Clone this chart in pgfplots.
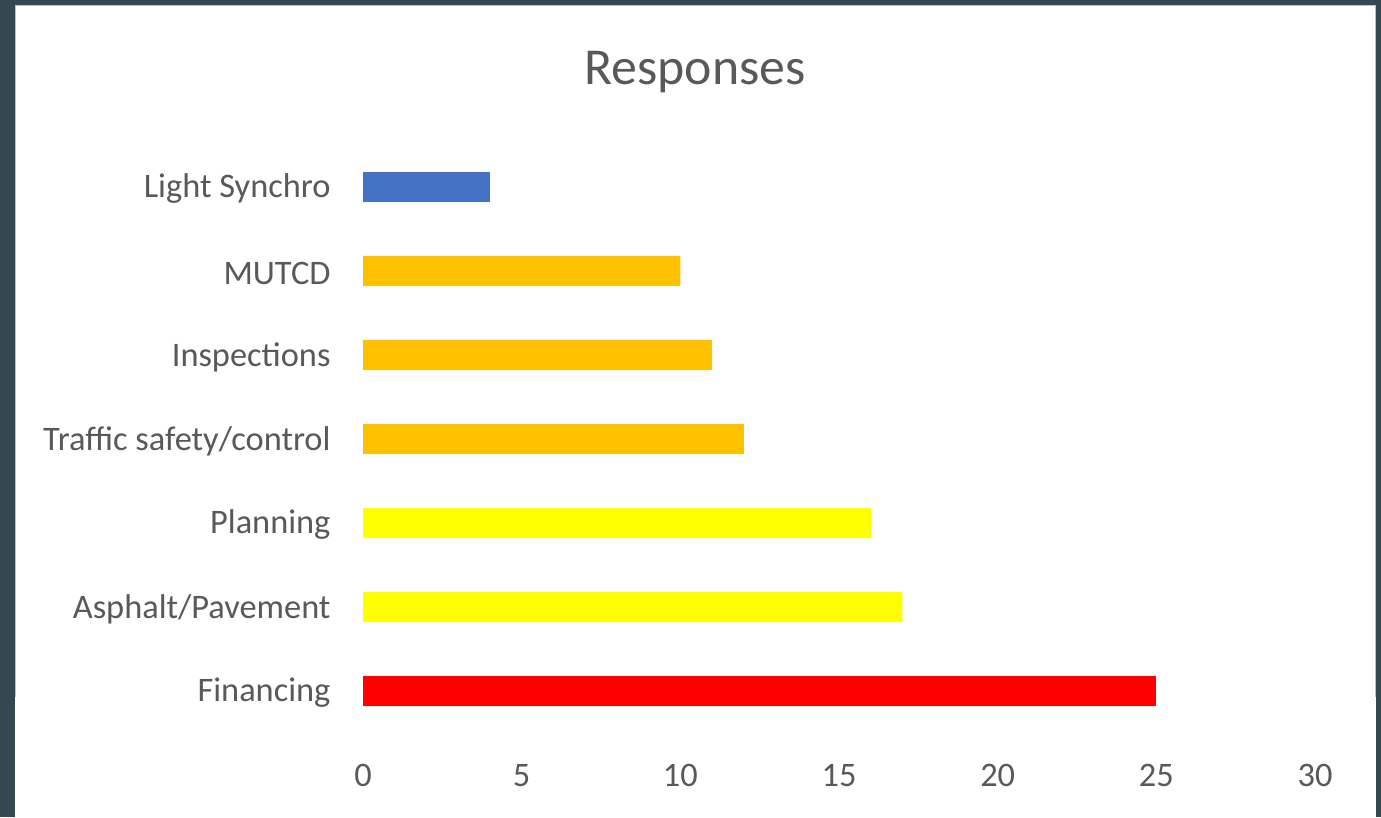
\documentclass[border=0pt]{standalone}
\usepackage{pgfplots}
\pgfplotsset{compat=1.18}
\usepackage{fontspec}
\setmainfont{Carlito}
\definecolor{bgdark}{HTML}{37474F}
\definecolor{txtgray}{HTML}{595959}
\definecolor{barblue}{HTML}{4472C4}
\definecolor{barorange}{HTML}{FFC000}
\definecolor{baryellow}{HTML}{FFFF00}
\definecolor{barred}{HTML}{FF0000}

\begin{document}
\begin{tikzpicture}[x=1bp,y=1bp]
% slide background and white panel
\fill[bgdark] (0,0) rectangle (1381,817);
\fill[white] (15,0) rectangle (1376,812);
\draw[gray!50, line width=1.5bp] (15.5,120) -- (15.5,811.5) -- (1375.5,811.5) -- (1375.5,120);
\node[txtgray, font=\fontsize{52}{56}\selectfont, anchor=base] at (695,732) {Responses};
\begin{axis}[
  at={(363bp,84bp)}, anchor=south west,
  scale only axis, width=952bp, height=588bp,
  xbar, bar shift=0pt, bar width=30bp,
  xmin=0, xmax=30, ymin=0.5, ymax=7.5,
  xtick={0,5,...,30}, ytick={1,...,7},
  yticklabels={Financing, Asphalt/Pavement, Planning, Traffic safety/control, Inspections, MUTCD, Light Synchro},
  axis line style={draw=none}, major tick length=0pt,
  tick label style={txtgray, font=\fontsize{34.5}{38}\selectfont},
  /pgf/number format/assume math mode=true,
  xticklabel style={anchor=base, yshift=-53bp},
  yticklabel style={xshift=-29bp, yshift=-2bp},
  clip=false,
]
\addplot[fill=barred, draw=none] coordinates {(25,1)};
\addplot[fill=baryellow, draw=none] coordinates {(17,2) (16,3)};
\addplot[fill=barorange, draw=none] coordinates {(12,4) (11,5) (10,6)};
\addplot[fill=barblue, draw=none] coordinates {(4,7)};
\end{axis}
\end{tikzpicture}
\end{document}
